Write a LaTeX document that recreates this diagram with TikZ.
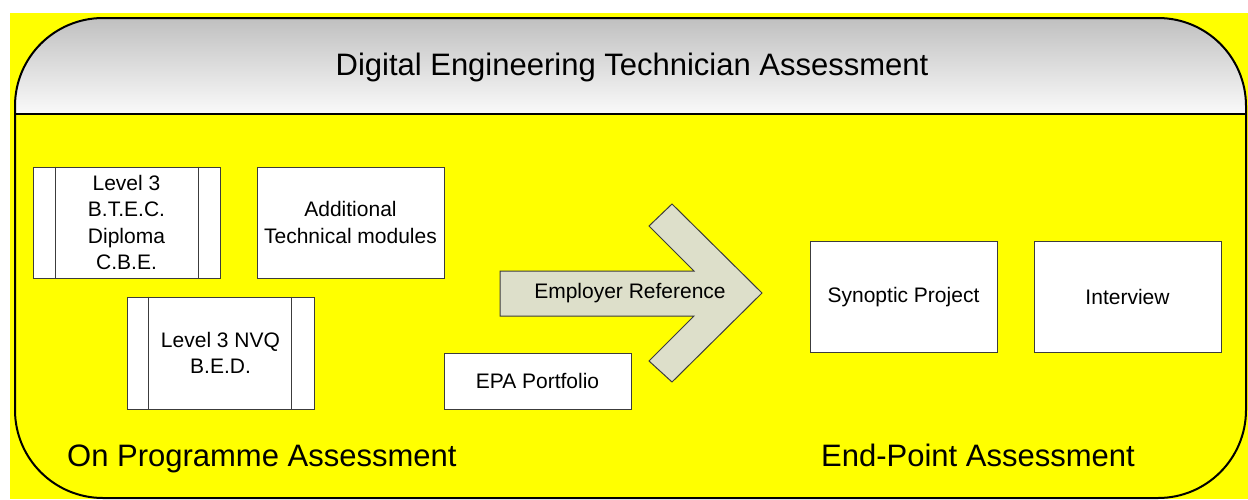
\documentclass[tikz,border=0pt]{standalone}
\usepackage{fontspec}
\setmainfont{Liberation Sans}
\usetikzlibrary{calc}
\definecolor{bgyellow}{RGB}{255,255,0}
\definecolor{arrowfill}{RGB}{221,223,202}
\definecolor{boxline}{RGB}{60,60,60}
\definecolor{hdtop}{RGB}{192,192,192}
\definecolor{hdbot}{RGB}{250,250,250}
\tikzset{
  box/.style={draw=boxline, line width=1pt, fill=white, inner sep=0pt,
    minimum width=187pt, minimum height=111pt, align=center,
    font=\fontsize{21}{26.5}\selectfont},
  smalltext/.style={inner sep=0pt, font=\fontsize{21}{26}\selectfont},
  bigtext/.style={inner sep=0pt, font=\fontsize{31}{36}\selectfont},
  innerline/.style={draw=boxline, line width=1pt}
}
\begin{document}
\begin{tikzpicture}[x=1pt,y=-1pt]
\useasboundingbox (0,0) rectangle (1248,499);
\fill[white] (0,0) rectangle (1248,499);
\fill[bgyellow] (10,13) rectangle (1248,499);
% header gradient
\begin{scope}
  \clip[rounded corners=88pt] (15,18) rectangle (1246,498);
  \shade[top color=hdtop, bottom color=hdbot] (15,18) rectangle (1246,114);
\end{scope}
\draw[line width=2pt] (15,114) -- (1246,114);
\draw[line width=2pt, rounded corners=88pt] (15,18) rectangle (1246,498);
\node[bigtext, anchor=base] (title) at (632,75) {Digital Engineering Technician Assessment};

% left boxes
\node[box] (btec) at (126.5,222.5) {Level 3\\B.T.E.C.\\Diploma\\C.B.E.};
\draw[innerline] ($(btec.north west)+(23,0)$) -- ($(btec.south west)+(23,0)$);
\draw[innerline] ($(btec.north east)+(-22,0)$) -- ($(btec.south east)+(-22,0)$);
\node[box] (addl) at (350.5,222.5) {Additional\\Technical modules};
\node[box, minimum height=112pt] (nvq) at (220.5,353) {Level 3 NVQ\\B.E.D.};
\draw[innerline] ($(nvq.north west)+(22,0)$) -- ($(nvq.south west)+(22,0)$);
\draw[innerline] ($(nvq.north east)+(-23,0)$) -- ($(nvq.south east)+(-23,0)$);
\node[box, minimum height=56pt] (epa) at (537.5,381) {EPA Portfolio};

% arrow
\draw[draw=boxline, line width=1pt, fill=arrowfill, line join=miter]
  (500,271) -- (694,271) -- (649,226) -- (672,204) -- (762,293) -- (672,382)
  -- (649,361) -- (694,316) -- (500,316) -- cycle;
\node[smalltext] (empref) at (630,293) {Employer Reference};

% right boxes
\node[box] (syn) at (903.5,297) {Synoptic Project};
\node[box] (intv) at (1127.5,297) {Interview};

% labels
\node[bigtext, anchor=base west] (onprog) at (67,466) {On Programme Assessment};
\node[bigtext, anchor=base west] (endpt) at (821,466) {End-Point Assessment};
\end{tikzpicture}
\end{document}
